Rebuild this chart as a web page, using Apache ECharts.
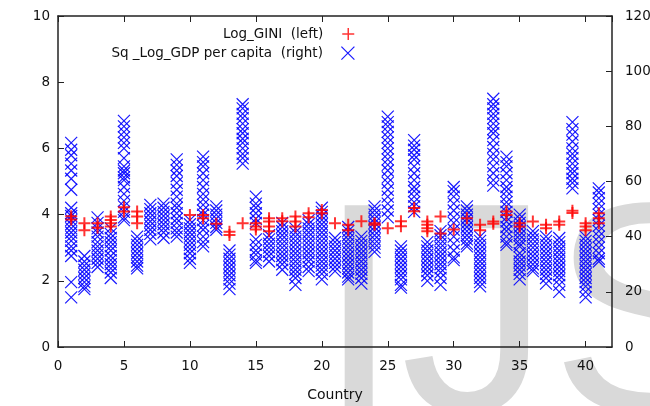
<!DOCTYPE html>
<html>
<head>
<meta charset="utf-8">
<script src="https://cdn.jsdelivr.net/npm/echarts@6/dist/echarts.min.js"></script>
<style>html,body{margin:0;padding:0;background:#fff}#main{width:650px;height:406px}</style>
</head>
<body>
<div id="main"></div>
<script>
// country index 1..41
var countries = [1,2,3,4,5,6,7,8,9,10,11,12,13,14,15,16,17,18,19,20,21,22,23,24,25,26,27,28,29,30,31,32,33,34,35,36,37,38,39,40,41];

// Log_GINI (left axis), several years per country
var giniLog = [
  [3.95,3.85],[3.74,3.53],[3.74,3.6],[3.94,3.84,3.74,3.64],[4.22,4.09],
  [4.09,3.94,3.74],[],[],[],[3.99],
  [3.99,3.89],[3.72],[3.48,3.38],[3.74],[3.74,3.64,3.55],
  [3.89,3.79,3.64,3.5],[3.89,3.8],[3.94,3.79,3.64],[4.04,3.92],[4.14,4.04],
  [3.74],[3.69,3.53],[3.8],[3.74,3.69],[3.59],
  [3.8,3.65],[4.2,4.1],[3.79,3.69,3.59,3.5],[3.94,3.43],[3.55],
  [3.89],[3.69,3.53],[3.79,3.72],[4.09,3.99],[3.74,3.64],
  [3.79],[3.69,3.59],[3.79,3.69],[4.12,4.05],[3.74,3.64,3.53],
  [4.04,3.89,3.74]
];

// Sq _Log_GDP per capita (right axis)
var gdpSq = [
  [74,71.5,69.5,66.5,64,61,57,50.5,48.5,47.5,46,44.5,43,41.5,40,38.5,36.5,35,33,23.5,18],
  [33,31,29.5,28,26.5,25,23.5,22,21],
  [47,45,43,41.5,40,38,36.5,35,33.5,32,30.5,29],
  [43,41,39.5,38,36.5,35,33,31.5,30,28.5,27,25],
  [82,80,78,76,74,72,68.5,65.5,64,63,61.5,60.5,58,55.5,53,51,49,47,46],
  [40,38.5,37,35.5,34,32.5,31,29.5,28.5],
  [51.5,50,48.5,47,45.5,44,42.5,41,39],
  [52,50.5,49,47.5,46,44.5,43,41.5,39.5],
  [68,66,64,62,59.5,57,54.5,52,50.5,48.5,46.5,45,43,41.5,40],
  [46,44.5,43,41.5,40,38.5,37,35.5,34,32,30.5],
  [69,67,65.5,63,60.5,58,55.5,53.5,51.5,49.5,48,46,44,42.5,40,38,36.5],
  [51,49.5,48,46.5,45,43.5,42.5],
  [35,33.5,32,30.5,29,27.5,26,24.5,23,21],
  [88,86.5,84.5,83,81,79,77.5,75.5,74,72,70,68.5,66.5],
  [54.5,52,50.5,48.5,46.5,45,39,37,35,33.5,31.5,30.5],
  [40.5,39,37.5,36,34.5,33,31],
  [45,43.5,42,40.5,39,37.5,36,34.5,33,31.5,30,28],
  [43,41.5,40,38.5,37,35.5,34,32.5,31,29.5,28,26.5,25,22.5],
  [46,44.5,43,41.5,40,38.5,37,35.5,34,32.5,31,29,27.5],
  [50.5,49,47.5,46,44.5,43,41.5,40,38.5,37,35.5,34,32.5,31,29.5,28,26.5,24.5],
  [39.5,38,36.5,35,33.5,32,30.5,29,27.5],
  [43.5,42,40.5,39,37.5,36,34.5,33,31.5,30,28.5,27,25.5,24.5],
  [40,38.5,37,35.5,34,32.5,31,29.5,28,26.5,25,23],
  [51,49.5,48,46.5,45,43.5,42,40.5,39,37.5,36,34.5],
  [83.5,81.5,80,78,76,74,72,70,68,66,64,61.5,59.5,57,54.5,52,49.5,47],
  [36.5,35,33.5,32,30.5,29,27.5,26,24.5,22.5,21.5],
  [75,73,71.5,69.5,68,65.5,63,60.5,58,56.5,54.5,52.5,51,49],
  [38,36.5,35,33.5,32,30.5,29,27.5,26,24],
  [42,40.5,39,37.5,36,34.5,33,31.5,30,28.5,27,25,22.5],
  [58,56.5,54.5,52,49.5,47,45,42.5,40,37.5,35,32.5,31.5],
  [51,49.5,48,46.5,45,43.5,42,40.5,39,37.5,36.5],
  [40,38.5,37,35.5,34,32.5,31,29.5,28,26.5,25,23.5,22],
  [90,88,86.5,84.5,83,81,79,77.5,75,72.5,70,68,65.5,63,60.5,58.5],
  [69,67,65.5,63,60.5,58,56.5,54.5,52.5,51,49,47,45.5,43.5,42,40,38,37],
  [48,46.5,45,43.5,42,40.5,39,37.5,36.5,34,32.5,31,29.5,28,26.5,24.5],
  [42,40.5,39,37.5,36,34.5,33,31.5,30,28.5,27.5],
  [40,38.5,37,35.5,34,32.5,31,29.5,28,26.5,25,23],
  [39.5,38,36.5,35,33.5,32,30.5,29,27.5,26,24.5,22.5,20],
  [81.5,79,77,74.5,72,70,68.5,66.5,64.5,63,61,59.5,57.5],
  [40,38.5,37,35.5,34,32.5,31,29.5,28,26.5,25,23.5,22,20,18],
  [57.5,56,54,52,50,48,46,44,42,40,38,36,34,32,31]
];

var xTicks = [0,5,10,15,20,25,30,35,40];
var yLeftTicks = [0,2,4,6,8,10];
var yRightTicks = [0,20,40,60,80,100,120];
var xMax = 42;

var giniPts = [], gdpPts = [];
countries.forEach(function (c, i) {
  giniLog[i].forEach(function (v) { giniPts.push([c, v]); });
  gdpSq[i].forEach(function (v) { gdpPts.push([c, v]); });
});

var plusPath = 'path://M5,0L5,10M0,5L10,5';
var crossPath = 'path://M0,0L10,10M10,0L0,10';
var font = 'DejaVu Sans';
var frame = '#222';

function axisCommon(extra) {
  var base = {
    type: 'value',
    axisLine: { show: true, onZero: false, lineStyle: { color: frame, width: 1.5 } },
    axisTick: { show: true, inside: true, length: 6, lineStyle: { color: frame, width: 1 } },
    splitLine: { show: false },
    axisLabel: { color: '#111', fontFamily: font, fontSize: 13.5 }
  };
  return Object.assign(base, extra);
}

var chart = echarts.init(document.getElementById('main'));
chart.setOption({
  animation: false,
  backgroundColor: '#fff',
  textStyle: { fontFamily: font },
  grid: { left: 58, right: 38, top: 16, bottom: 59, containLabel: false, outerBoundsMode: 'none' },
  graphic: [{
    type: 'text', z: -10, silent: true,
    style: { text: 'IJS', x: 317, y: 329, fill: '#d9d9d9', font: '300px "Liberation Sans"', verticalAlign: 'middle', align: 'left' }
  }],
  legend: [
    { data: [{ name: 'Log_GINI  (left)', icon: plusPath, itemStyle: { color: 'transparent', borderColor: '#ff0000', borderWidth: 1.5 } }],
      right: 295, top: 27, padding: 0, itemWidth: 40, itemHeight: 12, align: 'right',
      textStyle: { fontFamily: font, fontSize: 13.5, color: '#111' } },
    { data: [{ name: 'Sq _Log_GDP per capita  (right)', icon: crossPath, itemStyle: { color: 'transparent', borderColor: '#0000ff', borderWidth: 1.2 } }],
      right: 295, top: 46, padding: 0, itemWidth: 40, itemHeight: 13, align: 'right',
      textStyle: { fontFamily: font, fontSize: 13.5, color: '#111' } }
  ],
  xAxis: [
    axisCommon({ position: 'bottom', min: xTicks[0], max: xMax, interval: xTicks[1] - xTicks[0],
      name: 'Country', nameLocation: 'middle', nameGap: 41,
      nameTextStyle: { fontFamily: font, fontSize: 14, color: '#111' },
      axisLabel: { color: '#111', fontFamily: font, fontSize: 13.5, margin: 12, showMaxLabel: false,
        formatter: function (v) { return xTicks.indexOf(v) >= 0 ? String(v) : ''; } } }),
    axisCommon({ position: 'top', min: xTicks[0], max: xMax, interval: xTicks[1] - xTicks[0],
      axisLabel: { show: false } })
  ],
  yAxis: [
    axisCommon({ position: 'left', min: yLeftTicks[0], max: yLeftTicks[yLeftTicks.length - 1],
      interval: yLeftTicks[1] - yLeftTicks[0],
      axisLabel: { color: '#111', fontFamily: font, fontSize: 13.5, margin: 8 } }),
    axisCommon({ position: 'right', min: yRightTicks[0], max: yRightTicks[yRightTicks.length - 1],
      interval: yRightTicks[1] - yRightTicks[0],
      axisLabel: { color: '#111', fontFamily: font, fontSize: 13.5, margin: 13 } })
  ],
  series: [
    { name: 'Sq _Log_GDP per capita  (right)', type: 'scatter', xAxisIndex: 0, yAxisIndex: 1,
      symbol: crossPath, symbolSize: 12, z: 2,
      itemStyle: { color: 'transparent', borderColor: '#0000ff', borderWidth: 1.2, opacity: 0.9 },
      emphasis: { disabled: true }, data: gdpPts },
    { name: 'Log_GINI  (left)', type: 'scatter', xAxisIndex: 0, yAxisIndex: 0,
      symbol: plusPath, symbolSize: 12, z: 3,
      itemStyle: { color: 'transparent', borderColor: '#ff0000', borderWidth: 2 },
      emphasis: { disabled: true }, data: giniPts }
  ]
});
</script>
</body>
</html>
